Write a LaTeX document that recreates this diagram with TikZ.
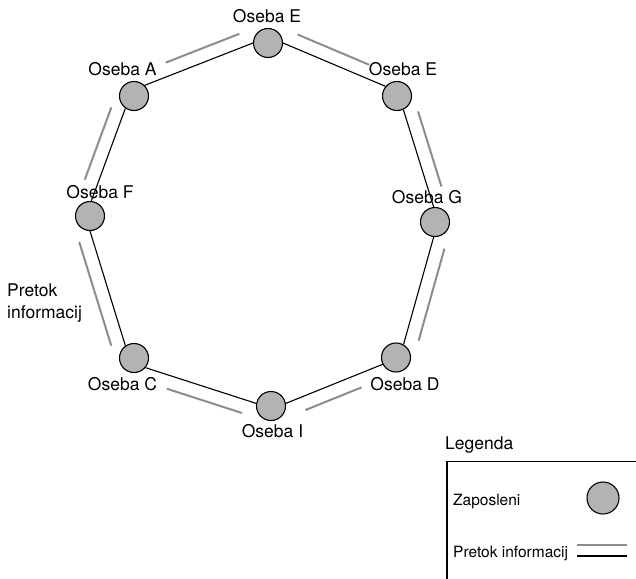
\documentclass[tikz,border=0pt]{standalone}
\usepackage{fontspec}
\setmainfont{TeX Gyre Heros}
\usetikzlibrary{calc}
\definecolor{nodegray}{RGB}{179,179,179}
\definecolor{flowgray}{RGB}{140,140,140}
\begin{document}
\begin{tikzpicture}[x=1pt, y=-1pt,
                    pnode/.style = {shape = circle,
                                    draw = black,
                                    fill = nodegray,
                                    line width = 1.1pt,
                                    inner sep = 0pt,
                                    minimum size = 29pt},
                    lbl/.style = {inner sep = 0pt,
                                  anchor = base,
                                  font = \fontsize{17.5}{22}\selectfont},
                    lgd/.style = {inner sep = 0pt,
                                  anchor = base west,
                                  font = \fontsize{15.5}{18}\selectfont},
                    link/.style = {draw = black, line width = 1.1pt},
                    flow/.style = {draw = flowgray, line width = 2pt}]
		\useasboundingbox (0,0) rectangle (636,578);
		% zaposleni
		\node[pnode] (E1) at (268,43) {};
		\node[pnode] (E2) at (397,96) {};
		\node[pnode] (G) at (435,222) {};
		\node[pnode] (D) at (396,357.5) {};
		\node[pnode] (I) at (271,406) {};
		\node[pnode] (C) at (134,358) {};
		\node[pnode] (F) at (90,216) {};
		\node[pnode] (A) at (134,96) {};
		% imena
		\node[lbl] (lE1) at (267,23) {Oseba E};
		\node[lbl] (lE2) at (403,75) {Oseba E};
		\node[lbl] (lG) at (427,203) {Oseba G};
		\node[lbl] (lD) at (405,390) {Oseba D};
		\node[lbl] (lI) at (272.5,437) {Oseba I};
		\node[lbl] (lC) at (122.5,390) {Oseba C};
		\node[lbl] (lF) at (100,198) {Oseba F};
		\node[lbl] (lA) at (122.5,75) {Oseba A};
		\node[lbl, anchor = north west, align = left] (lP) at (7,284) {Pretok\\informacij};
		% povezave
		\draw[link] (A.45) -- (E1.180);
		\draw[link] (E1.0) -- (E2.140);
		\draw[link] (E2.-65) -- (G.95);
		\draw[link] (G.-95) -- (D.60);
		\draw[link] (D.207) -- (I.10);
		\draw[link] (I.170) -- (C.-40);
		\draw[link] (C.125) -- (F.-90);
		\draw[link] (F.85) -- (A.-125);
		% pretok informacij
		\draw[flow] ($(A.45)!0.24!(E1.180)!13.5pt!90:(E1.180)$) -- ($(A.45)!0.92!(E1.180)!13.5pt!90:(E1.180)$);
		\draw[flow] ($(E1.0)!0.09!(E2.140)!13.5pt!90:(E2.140)$) -- ($(E1.0)!0.79!(E2.140)!13.5pt!90:(E2.140)$);
		\draw[flow] ($(E2.-65)!0.06!(G.95)!13.5pt!90:(G.95)$) -- ($(E2.-65)!0.83!(G.95)!13.5pt!90:(G.95)$);
		\draw[flow] ($(G.-95)!0.075!(D.60)!13.5pt!90:(D.60)$) -- ($(G.-95)!0.93!(D.60)!13.5pt!90:(D.60)$);
		\draw[flow] ($(D.207)!0.27!(I.10)!13.5pt!90:(I.10)$) -- ($(D.207)!0.85!(I.10)!13.5pt!90:(I.10)$);
		\draw[flow] ($(I.170)!0.09!(C.-40)!13.5pt!90:(C.-40)$) -- ($(I.170)!0.77!(C.-40)!13.5pt!90:(C.-40)$);
		\draw[flow] ($(C.125)!0.035!(F.-90)!13.5pt!90:(F.-90)$) -- ($(C.125)!0.94!(F.-90)!13.5pt!90:(F.-90)$);
		\draw[flow] ($(F.85)!0.18!(A.-125)!13.5pt!90:(A.-125)$) -- ($(F.85)!0.96!(A.-125)!13.5pt!90:(A.-125)$);
		% legenda
		\node[lbl, anchor = base west] (leg) at (445,449) {Legenda};
		\draw[link] (640,461.5) -| (447,582);
		\node[lgd] (tZ) at (453,505) {Zaposleni};
		\node[pnode, minimum size = 32pt] (Z) at (603,498) {};
		\node[lgd] (tP) at (453,557) {Pretok informacij};
		\coordinate (p1) at (577,545);
		\coordinate (p2) at (627,545);
		\coordinate (p3) at (577,556);
		\coordinate (p4) at (627,556);
		\draw[flow] (p1) -- (p2);
		\draw[link] (p3) -- (p4);
	\end{tikzpicture}
\end{document}
